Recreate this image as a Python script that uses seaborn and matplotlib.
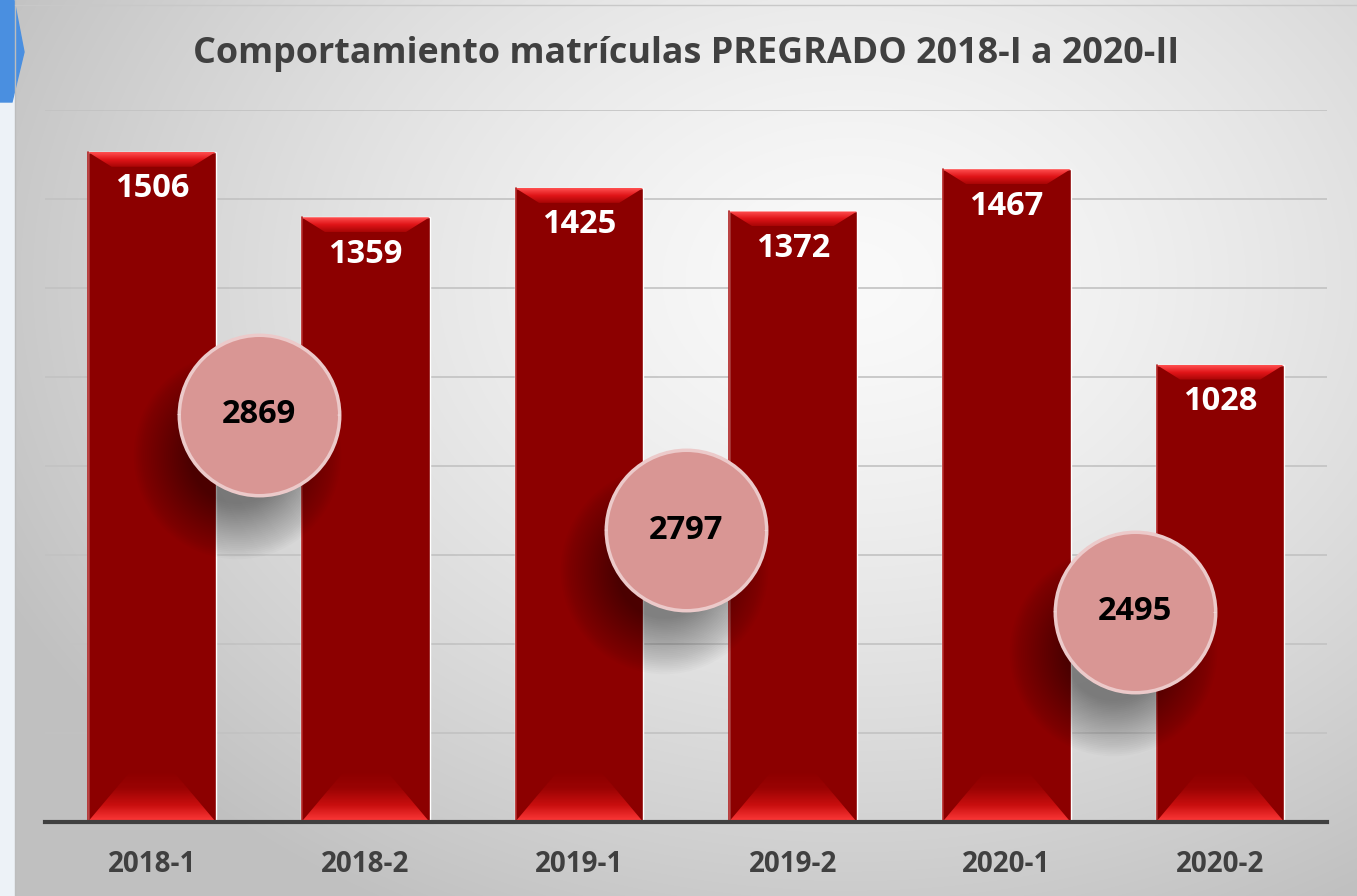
import numpy as np
import pandas as pd
import matplotlib
matplotlib.use('Agg')
import matplotlib.pyplot as plt
from matplotlib.patches import Polygon, Arc
from matplotlib.colors import LinearSegmentedColormap
import seaborn as sns

# data
periodos = ['2018-1', '2018-2', '2019-1', '2019-2', '2020-1', '2020-2']
matriculas = [1506, 1359, 1425, 1372, 1467, 1028]
totales_anio = [2869, 2797, 2495]

# where the yearly bubbles sit (decorative, not to scale)
burbuja_x = [0.5, 2.5, 4.6]
burbuja_y = [915, 656, 472]

sns.set_style('white')
plt.rcParams['font.family'] = ['Open Sans', 'DejaVu Sans']

W, H = 1357, 896
fig = plt.figure(figsize=(W / 100, H / 100), dpi=100)

# background: soft grey gradient, bright toward the upper centre
bg = fig.add_axes([0, 0, 1, 1])
yy, xx = np.mgrid[0:H, 0:W]
t = np.sqrt(((xx - 850) / 950.0) ** 2 + ((yy - 280) / 720.0) ** 2)
t = np.clip(t, 0, 1)
g = (250 - 58 * t ** 1.4) / 255.0
img = np.dstack([g, g, g])
img[:, :15] = np.array([0.93, 0.95, 0.97])
bg.imshow(img, extent=[0, W, H, 0], aspect='auto')
bg.plot([15, 15], [0, H], color='#bdbdbd', lw=1)
bg.plot([15, W], [5, 5], color='#c8c8c8', lw=1)
bg.add_patch(Polygon([(0, 0), (14, 0), (24, 52), (12, 102), (0, 102)],
                     closed=True, color='#4a8fe0'))
bg.set_xlim(0, W)
bg.set_ylim(H, 0)
bg.axis('off')

ax = fig.add_axes([45 / W, (H - 822) / H, 1282 / W, 712 / H])
ax.patch.set_alpha(0)

df = pd.DataFrame({'periodo': periodos, 'matriculas': matriculas})
sns.barplot(data=df, x='periodo', y='matriculas', color='#8c0000',
            saturation=1, width=0.6, ax=ax, zorder=2)

ax.set_xlim(-0.5, 5.5)
ax.set_ylim(0, 1600)
ux = 6 / 1282.0
uy = 1600 / 712.0

top_cmap = LinearSegmentedColormap.from_list('top', ['#ff5050', '#e01418', '#a80606'])
bot_cmap = LinearSegmentedColormap.from_list('bot', ['#8c0000', '#9a0303', '#c80e0e', '#ff3a3a'])
grad = np.linspace(0, 1, 64).reshape(-1, 1)

for p in ax.patches:
    x0, w, h = p.get_x(), p.get_width(), p.get_height()
    x1 = x0 + w
    # top bevel
    th = 15 * uy
    poly = Polygon([(x0, h), (x1, h), (x1 - 24 * ux, h - th), (x0 + 24 * ux, h - th)],
                   closed=True, transform=ax.transData)
    im = ax.imshow(grad, cmap=top_cmap, extent=[x0, x1, h - th, h], aspect='auto',
                   origin='upper', zorder=3)
    im.set_clip_path(poly)
    # bottom bevel
    bh = 50 * uy
    poly = Polygon([(x0, 0), (x1, 0), (x1 - 42 * ux, bh), (x0 + 42 * ux, bh)],
                   closed=True, transform=ax.transData)
    im = ax.imshow(grad, cmap=bot_cmap, extent=[x0, x1, 0, bh], aspect='auto',
                   origin='upper', zorder=3)
    im.set_clip_path(poly)
    # thin lighter side edge
    ax.plot([x0 + 0.7 * ux, x0 + 0.7 * ux], [0, h], color='#b02020', lw=1.2, zorder=3)
    ax.text(x0 + w / 2, h - 37 * uy, str(int(round(h))), ha='center', va='center',
            color='white', fontsize=23.5, fontweight='bold', zorder=6)

ax.set_xlim(-0.5, 5.5)
ax.set_ylim(0, 1600)

# bubble shadows, built from many faint discs so the edge fades out
diam = 166 * 0.72
n = 30
for k in range(n):
    f = 1.25 - k * 0.023
    ax.scatter([x - 22 * ux for x in burbuja_x], [y - 40 * uy for y in burbuja_y],
               s=(diam * f) ** 2, color='black', alpha=0.017, lw=0, zorder=4)

ax.scatter(burbuja_x, burbuja_y, s=(diam - 4) ** 2, color='#d99694',
           edgecolors='#eccaca', linewidths=2.5, zorder=5)
R = 80
for x, y in zip(burbuja_x, burbuja_y):
    ax.add_patch(Arc((x, y), 2 * R * ux, 2 * R * uy, theta1=130, theta2=215,
                     color='white', lw=2.5, alpha=0.85, zorder=5))
    ax.add_patch(Arc((x, y), 2 * R * ux, 2 * R * uy, theta1=295, theta2=345,
                     color='white', lw=2.5, alpha=0.85, zorder=5))

for x, y, v in zip(burbuja_x, burbuja_y, totales_anio):
    ax.text(x, y, str(v), ha='center', va='center', color='black',
            fontsize=23.5, fontweight='bold', zorder=6)

ax.yaxis.grid(True, color='#c2c2c2', lw=1.2, zorder=0)
ax.set_axisbelow(True)
ax.set_yticks(range(0, 1601, 200))
ax.set_yticklabels([])
ax.tick_params(axis='both', length=0)
ax.tick_params(axis='x', pad=20, labelsize=20, labelcolor='#404040')
for lab in ax.get_xticklabels():
    lab.set_fontweight('bold')
ax.set_xlabel('')
ax.set_ylabel('')
for s in ['top', 'right', 'left']:
    ax.spines[s].set_visible(False)
ax.spines['bottom'].set_color('#404040')
ax.spines['bottom'].set_linewidth(3)
ax.spines['bottom'].set_zorder(7)

fig.text(686 / W, 1 - 54 / H, 'Comportamiento matrículas PREGRADO 2018-I a 2020-II',
         ha='center', va='center', fontsize=25.8, fontweight='bold', color='#404040')

fig.savefig('out.png', dpi=100)
